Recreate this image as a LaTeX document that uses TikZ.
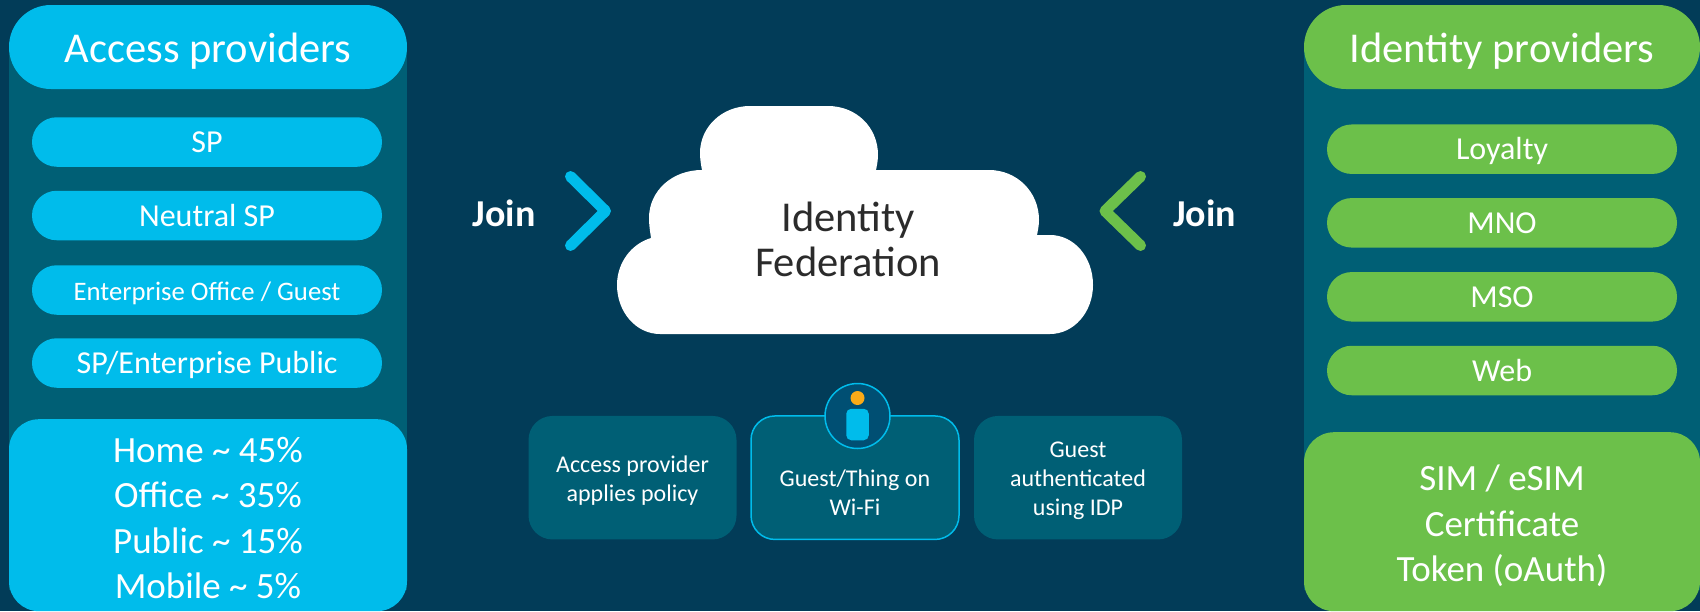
\documentclass[tikz,border=0pt]{standalone}
\usepackage{fontspec}
\setmainfont{Carlito}
\definecolor{bgc}{HTML}{023C58}
\definecolor{panelc}{HTML}{005F75}
\definecolor{blueb}{HTML}{00BCEB}
\definecolor{greenb}{HTML}{6CC04A}
\definecolor{discc}{HTML}{004F73}
\definecolor{orangec}{HTML}{FBAB18}
\definecolor{darktext}{HTML}{2B2B2B}
\newcommand{\fs}[2]{\fontsize{#1}{#2}\selectfont}
\tikzset{
  box/.style={rectangle,inner sep=0pt,outer sep=0pt,text=white,align=center},
  label/.style={box},
  panel/.style={box,fill=panelc},
  header/.style={box,minimum width=396pt,minimum height=84pt,rounded corners=41.9pt},
  pill/.style={box,minimum width=350pt,minimum height=49.5pt,rounded corners=24.7pt,text height=25pt,text depth=4pt},
  base/.style={box,minimum width=398pt,rounded corners=30pt},
  card/.style={box,fill=panelc,minimum width=208pt,minimum height=123.5pt,rounded corners=24pt},
  headtext/.style={label,font=\fs{42.5}{50}},
  pilltext/.style={font=\fs{32}{38}},
  basetext/.style={label,font=\fs{37}{45.5}},
  cardtext/.style={label,font=\fs{24}{29}},
  chev/.style={line width=11pt,line cap=round,line join=round},
  jointext/.style={label,font=\bfseries\fs{38}{44}},
}
\begin{document}
\begin{tikzpicture}[x=1pt,y=-1pt]
\useasboundingbox[fill=bgc] (0,0) rectangle (1700,611);

% left column
\node[panel,minimum width=398pt,minimum height=540pt] (lpanel) at (208,320) {};
\node[header,fill=blueb,minimum width=398pt] (lhead) at (208,47) {};
\node[headtext] (lheadt) at (208,51) {Access providers};
\node[pill,fill=blueb,pilltext] (l1) at (207,142) {SP};
\node[pill,fill=blueb,pilltext] (l2) at (207,215.5) {Neutral SP};
\node[pill,fill=blueb,font=\fs{26.7}{32}] (l3) at (207,290) {Enterprise Office / Guest};
\node[pill,fill=blueb,pilltext] (l4) at (207,363) {SP/Enterprise Public};
\node[base,fill=blueb,minimum height=192pt] (lbase) at (208,515.2) {};
\node[basetext] (lbaset) at (208,518) {Home \textasciitilde{} 45\%\\Office \textasciitilde{} 35\%\\Public \textasciitilde{} 15\%\\Mobile \textasciitilde{} 5\%};

% right column
\node[panel,minimum width=396pt,minimum height=540pt] (rpanel) at (1502,320) {};
\node[header,fill=greenb] (rhead) at (1502,47) {};
\node[headtext] (rheadt) at (1502,51) {Identity providers};
\node[pill,fill=greenb,pilltext] (r1) at (1502,149.2) {Loyalty};
\node[pill,fill=greenb,pilltext] (r2) at (1502,222.8) {MNO};
\node[pill,fill=greenb,pilltext] (r3) at (1502,296.8) {MSO};
\node[pill,fill=greenb,pilltext] (r4) at (1502,370.5) {Web};
\node[base,fill=greenb,minimum width=396pt,minimum height=179pt] (rbase) at (1502,521.7) {};
\node[basetext] (rbaset) at (1502,526) {SIM / eSIM\\Certificate\\Token (oAuth)};

% cloud
\fill[white] (660,334)
  .. controls (636,334) and (617,312) .. (617,285)
  .. controls (617,263) and (631,244) .. (651,238)
  .. controls (650,231) and (649,225) .. (649,218)
  .. controls (649,191) and (672,170) .. (702,170)
  .. controls (701,165) and (700,159) .. (700,153)
  .. controls (700,127) and (722,106) .. (750,106)
  -- (828,106)
  .. controls (856,106) and (878,127) .. (878,155)
  .. controls (878,160) and (877,165) .. (876,170)
  -- (989,170)
  .. controls (1017,170) and (1039,192) .. (1039,220)
  .. controls (1039,225) and (1038,230) .. (1037,235)
  -- (1050,235)
  .. controls (1074,235) and (1093,257) .. (1093,285)
  .. controls (1093,312) and (1074,334) .. (1050,334)
  -- cycle;
\node[label,text=darktext,font=\fs{42.5}{45}] (cloudtext) at (848,239.5) {Identity\\Federation};

% join chevrons
\node[jointext] (ljoin) at (504,213) {Join};
\node[jointext] (rjoin) at (1204.5,213) {Join};
\draw[chev,blueb] (570.5,176.5) -- (605.5,211) -- (570.5,245.5);
\draw[chev,greenb] (1140.5,176.5) -- (1105,211) -- (1140.5,245.5);

% cards
\node[card] (c1) at (632.5,477.7) {};
\node[cardtext] (c1t) at (632.5,480.5) {Access provider\\applies policy};
\node[card,draw=blueb,line width=1.5pt] (c2) at (855,477.7) {};
\node[cardtext] (c2t) at (855,493) {Guest/Thing on\\Wi-Fi};
\node[card] (c3) at (1078,477.7) {};
\node[cardtext] (c3t) at (1078,481) {Guest\\authenticated\\using IDP};

% guest icon
\node[circle,draw=blueb,fill=discc,line width=1.5pt,minimum size=65pt,inner sep=0pt] (disc) at (857.5,416) {};
\node[circle,fill=orangec,minimum width=14pt,inner sep=0pt] (head) at (857.5,398) {};
\node[rectangle,fill=blueb,minimum width=22.5pt,minimum height=31.5pt,rounded corners=5pt,inner sep=0pt] (body) at (857.5,424.5) {};
\end{tikzpicture}
\end{document}
